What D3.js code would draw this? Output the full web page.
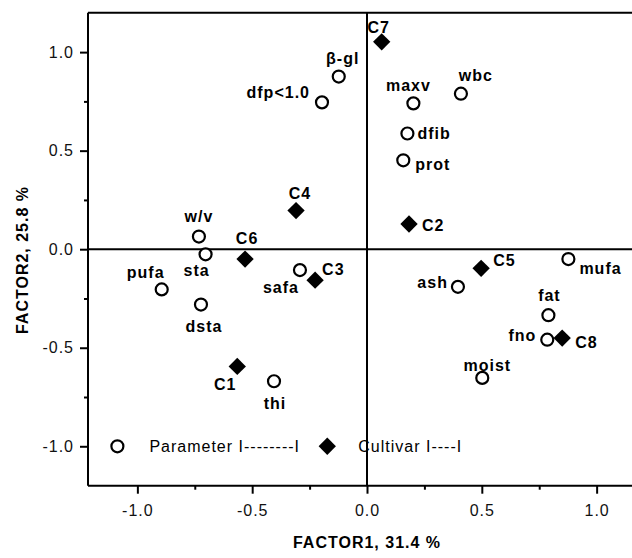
<!DOCTYPE html>
<html>
<head>
<meta charset="utf-8">
<script src="https://cdnjs.cloudflare.com/ajax/libs/d3/7.8.5/d3.min.js"></script>
<style>
  body { margin: 0; background: #fff; }
  svg text { font-family: "Liberation Sans", Arial, Helvetica, sans-serif; letter-spacing: 1px; }
</style>
</head>
<body>
<div id="chart"></div>
<script>
var width = 632,
    height = 558;

// parameters (open circles)
var paramNames = ['β-gl', 'dfp<1.0', 'maxv', 'wbc', 'dfib', 'prot', 'w/v', 'sta', 'pufa', 'dsta', 'safa', 'thi', 'ash', 'mufa', 'fat', 'fno', 'moist'];
var paramF1 = [-0.123, -0.196, 0.202, 0.409, 0.176, 0.158, -0.732, -0.703, -0.894, -0.723, -0.292, -0.405, 0.396, 0.877, 0.790, 0.785, 0.502];
var paramF2 = [0.876, 0.745, 0.740, 0.789, 0.587, 0.451, 0.064, -0.026, -0.204, -0.281, -0.106, -0.670, -0.191, -0.050, -0.335, -0.459, -0.653];

// cultivars (filled diamonds)
var cultNames = ['C1', 'C2', 'C3', 'C4', 'C5', 'C6', 'C7', 'C8'];
var cultF1 = [-0.565, 0.183, -0.226, -0.309, 0.497, -0.531, 0.064, 0.850];
var cultF2 = [-0.595, 0.128, -0.157, 0.196, -0.097, -0.050, 1.052, -0.451];

var majorTicks = [-1.0, -0.5, 0.0, 0.5, 1.0];
var minorTicks = [-0.75, -0.25, 0.25, 0.75];

// where each label sits relative to its mark: [anchor, dx, dy]
var labelPos = {
    'β-gl': ['middle', 4, -18], 'dfp<1.0': ['end', -12, -10], 'maxv': ['middle', -5, -18],
    'wbc': ['middle', 15, -18], 'dfib': ['start', 10, 0], 'prot': ['start', 12, 4],
    'w/v': ['middle', 0, -20], 'sta': ['middle', -9, 16], 'pufa': ['middle', -16, -17],
    'dsta': ['middle', 3, 22], 'safa': ['middle', -19, 17], 'thi': ['middle', 1, 22],
    'ash': ['end', -10, -5], 'mufa': ['start', 11, 9], 'fat': ['middle', 1, -20],
    'fno': ['end', -11, -4], 'moist': ['middle', 5, -13],
    'C1': ['middle', -12, 18], 'C2': ['start', 13, 1], 'C3': ['start', 7, -11],
    'C4': ['middle', 4, -17], 'C5': ['start', 12, -8], 'C6': ['middle', 2, -21],
    'C7': ['middle', -3, -15], 'C8': ['start', 13, 4]
};

var params = paramNames.map(function(d, i) { return {name: d, x: paramF1[i], y: paramF2[i]}; });
var cults = cultNames.map(function(d, i) { return {name: d, x: cultF1[i], y: cultF2[i]}; });

var svg = d3.select('#chart').append('svg')
    .attr('width', width)
    .attr('height', height);

var x = d3.scaleLinear()
    .domain([-1.215, 1.215])
    .range([88, 646]);

var y = d3.scaleLinear()
    .domain([-1.2, 1.2])
    .range([485.7, 12.7]);

var x0 = x.range()[0], x1 = width;
var yTop = y.range()[1], yBot = y.range()[0];

// plain hyphen for negatives, like the original
var fmt = d3.formatLocale({decimal: '.', thousands: ',', grouping: [3], currency: ['', ''], minus: '-'}).format('.1f');

// axes
var xAxis = d3.axisBottom(x).tickValues(majorTicks).tickSize(8).tickSizeOuter(0).tickPadding(6)
    .tickFormat(fmt);
var yAxis = d3.axisLeft(y).tickValues(majorTicks).tickSize(8).tickSizeOuter(0).tickPadding(6)
    .tickFormat(fmt);

var gx = svg.append('g')
    .attr('transform', 'translate(0,' + yBot + ')')
    .call(xAxis);
gx.select('.domain').remove();
gx.append('g')
    .call(d3.axisBottom(x).tickValues(minorTicks).tickSize(4).tickFormat(''))
    .select('.domain').remove();

var gy = svg.append('g')
    .attr('transform', 'translate(' + x0 + ',0)')
    .call(yAxis);
gy.select('.domain').remove();
gy.append('g')
    .call(d3.axisLeft(y).tickValues(minorTicks).tickSize(4).tickFormat(''))
    .select('.domain').remove();

svg.selectAll('.tick line').attr('stroke', '#000').attr('stroke-width', 2);
svg.selectAll('.tick text')
    .attr('font-size', '16px')
    .attr('fill', '#111')
    .style('font-family', '"Liberation Sans", Arial, sans-serif');
gx.selectAll('.tick text').attr('dy', '1.05em');

// frame (no right side) and zero lines
var lines = [
    [x0, yTop, x1, yTop],
    [x0, yTop, x0, yBot],
    [x0, yBot, x1, yBot],
    [x(0), yTop, x(0), yBot],
    [x0, y(0), x1, y(0)]
];
svg.selectAll('.frame')
    .data(lines)
    .enter().append('line')
    .attr('class', 'frame')
    .attr('x1', function(d) { return d[0]; })
    .attr('y1', function(d) { return d[1]; })
    .attr('x2', function(d) { return d[2]; })
    .attr('y2', function(d) { return d[3]; })
    .attr('stroke', '#000')
    .attr('stroke-width', 2);

// axis titles
svg.append('text')
    .attr('x', x(0))
    .attr('y', 548)
    .attr('text-anchor', 'middle')
    .attr('font-size', '16px')
    .attr('font-weight', 'bold')
    .text('FACTOR1, 31.4 %');

svg.append('text')
    .attr('transform', 'translate(28,260) rotate(-90)')
    .attr('text-anchor', 'middle')
    .attr('font-size', '16px')
    .attr('font-weight', 'bold')
    .text('FACTOR2, 25.8 %');

var diamond = d3.symbol().type(d3.symbolSquare).size(150);

// marks
svg.selectAll('.param')
    .data(params)
    .enter().append('circle')
    .attr('class', 'param')
    .attr('cx', function(d) { return x(d.x); })
    .attr('cy', function(d) { return y(d.y); })
    .attr('r', 6)
    .attr('fill', '#fff')
    .attr('stroke', '#000')
    .attr('stroke-width', 2.2);

svg.selectAll('.cult')
    .data(cults)
    .enter().append('path')
    .attr('class', 'cult')
    .attr('d', diamond)
    .attr('transform', function(d) { return 'translate(' + x(d.x) + ',' + y(d.y) + ') rotate(45)'; })
    .attr('fill', '#000');

// point labels
svg.selectAll('.lbl')
    .data(params.concat(cults))
    .enter().append('text')
    .attr('class', 'lbl')
    .attr('x', function(d) { return x(d.x) + labelPos[d.name][1]; })
    .attr('y', function(d) { return y(d.y) + labelPos[d.name][2]; })
    .attr('dy', '0.36em')
    .attr('text-anchor', function(d) { return labelPos[d.name][0]; })
    .attr('font-size', '16px')
    .attr('font-weight', 'bold')
    .attr('fill', '#000')
    .text(function(d) { return d.name; });

// legend
var legend = svg.append('g');
legend.append('circle')
    .attr('cx', x(-1.087))
    .attr('cy', y(-1.0))
    .attr('r', 6)
    .attr('fill', '#fff')
    .attr('stroke', '#000')
    .attr('stroke-width', 2.2);
legend.append('text')
    .attr('x', x(-1.087) + 32)
    .attr('y', y(-1.0))
    .attr('dy', '0.36em')
    .attr('font-size', '16px')
    .text('Parameter I--------I');
legend.append('path')
    .attr('d', diamond)
    .attr('transform', 'translate(' + x(-0.173) + ',' + y(-1.0) + ') rotate(45)')
    .attr('fill', '#000');
legend.append('text')
    .attr('x', x(-0.173) + 31)
    .attr('y', y(-1.0))
    .attr('dy', '0.36em')
    .attr('font-size', '16px')
    .text('Cultivar I----I');
</script>
</body>
</html>
